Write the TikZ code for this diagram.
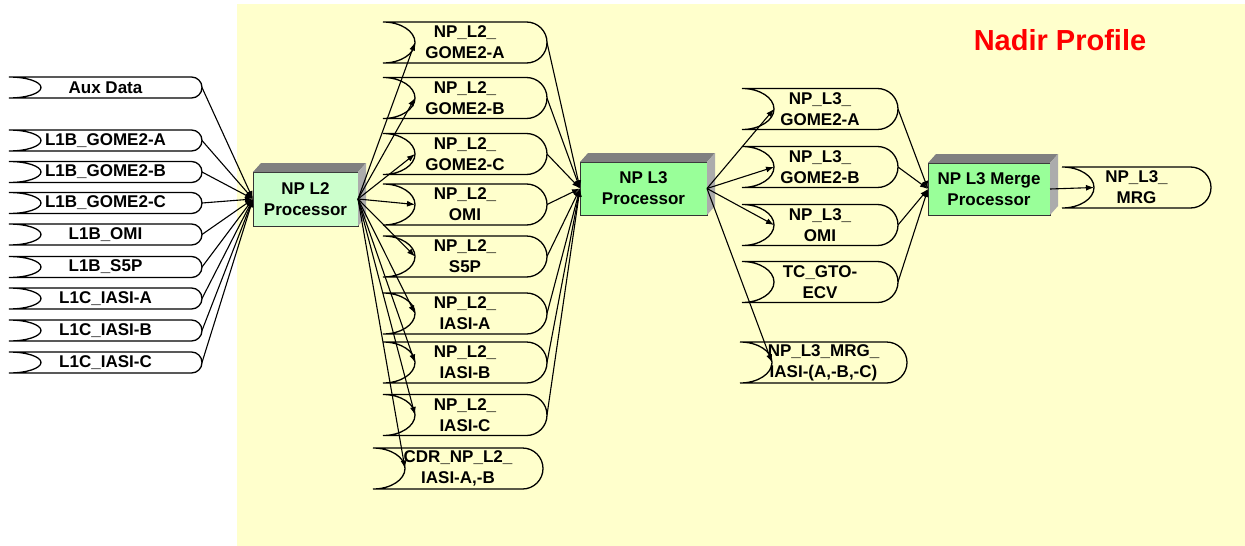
\documentclass[tikz,border=0pt]{standalone}
\usepackage{fontspec}
\setmainfont{Liberation Sans}
\usetikzlibrary{arrows.meta}
\definecolor{bgyellow}{HTML}{FFFFCC}
\definecolor{lightgreen}{HTML}{CCFFCC}
\definecolor{procgreen}{HTML}{99FF99}
\tikzset{
  dtext/.style={font=\bfseries\fontsize{17}{21}\selectfont, align=center,
    inner sep=0pt, outer sep=0pt},
  dline/.style={line width=1.3pt},
  proc/.style={draw=black!80, line width=0.8pt, font=\bfseries\fontsize{17}{21}\selectfont,
    align=center, inner sep=0pt, outer sep=0pt},
  arr/.style={-{Latex[length=8pt,width=6pt]}, line width=1.1pt},
  title/.style={text=red, font=\bfseries\fontsize{29}{32}\selectfont}
}
% data store: name, left x, centre y, right x, height, text
\newcommand{\dstore}[6]{%
  \node[dtext, minimum width=#4pt-#2pt, minimum height=#5pt] (#1) at ({(#2+#4)/2},-#3) {#6};
  \draw[dline] (#1.south west) arc[start angle=-90, end angle=90, x radius=32pt, y radius=#5*0.5pt]
    -- ([xshift=-#5*0.5pt]#1.north east) arc[start angle=90, end angle=-90, radius=#5*0.5pt] -- cycle;
  \coordinate (#1-in) at ([xshift=32pt]#1.west);
}
\begin{document}
\begin{tikzpicture}[x=1pt,y=1pt]
  \useasboundingbox (0,0) rectangle (1245,-546);
  \fill[bgyellow] (237,-4) rectangle (1245,-546);
  \node[title] (title) at (1060,-40) {Nadir Profile};
  % level 1 inputs
  \foreach \n/\y/\t in {aux/87.5/Aux Data, l1bga/140.5/L1B\_GOME2-A, l1bgb/172/L1B\_GOME2-B,
      l1bgc/203/L1B\_GOME2-C, l1bomi/234.5/L1B\_OMI, l1bs5p/267/L1B\_S5P,
      l1cia/298.5/L1C\_IASI-A, l1cib/330.5/L1C\_IASI-B, l1cic/362.5/L1C\_IASI-C}
    \dstore{\n}{9}{\y}{202}{21}{\t};
  % level 2 products
  \foreach \n/\y/\t in {l2ga/42.5/NP\_L2\_\\GOME2-A, l2gb/98/NP\_L2\_\\GOME2-B,
      l2gc/154/NP\_L2\_\\GOME2-C, l2omi/204.5/NP\_L2\_\\OMI, l2s5p/256.5/NP\_L2\_\\S5P,
      l2ia/313.5/NP\_L2\_\\IASI-A, l2ib/362.5/NP\_L2\_\\IASI-B, l2ic/415/NP\_L2\_\\IASI-C}
    \dstore{\n}{383}{\y}{547}{41}{\t};
  \dstore{cdr}{373}{468.5}{543}{41}{CDR\_NP\_L2\_\\IASI-A,-B}
  % level 3 products
  \foreach \n/\y/\t in {l3ga/109/NP\_L3\_\\GOME2-A, l3gb/167/NP\_L3\_\\GOME2-B,
      l3omi/225/NP\_L3\_\\OMI, tcgto/282/TC\_GTO-\\ECV}
    \dstore{\n}{742}{\y}{898}{41}{\t};
  \dstore{l3iasi}{740}{362.5}{907}{41}{NP\_L3\_MRG\_\\IASI-(A,-B,-C)}
  \dstore{l3mrg}{1062}{187.5}{1211}{41}{NP\_L3\_\\MRG}
  % processors
  \node[proc, fill=lightgreen, minimum width=105pt, minimum height=54pt] (pl2) at (305.5,-199) {NP L2\\Processor};
  \node[proc, fill=procgreen, minimum width=127pt, minimum height=53pt] (pl3) at (643.5,-188.5) {NP L3\\Processor};
  \node[proc, fill=procgreen, minimum width=122pt, minimum height=52pt] (pmrg) at (989,-189) {NP L3 Merge\\Processor};
  \foreach \p in {pl2,pl3,pmrg} {
    \fill[gray] (\p.north west) -- ++(8,9) -- ([shift={(8,9)}]\p.north east) -- (\p.north east) -- cycle;
    \fill[gray!65] (\p.north east) -- ++(8,9) -- ([shift={(8,9)}]\p.south east) -- (\p.south east) -- cycle;
  }
  % connectors
  \foreach \n in {aux,l1bga,l1bgb,l1bgc,l1bomi,l1bs5p,l1cia,l1cib,l1cic}
    \draw[arr] (\n.east) -- (pl2.west);
  \foreach \n in {l2ga,l2gb,l2gc,l2omi,l2s5p,l2ia,l2ib,l2ic,cdr}
    \draw[arr] (pl2.east) -- (\n-in);
  \foreach \n in {l2ga,l2gb,l2gc,l2omi,l2s5p,l2ia,l2ib,l2ic}
    \draw[arr] (\n.east) -- (pl3.west);
  \foreach \n in {l3ga,l3gb,l3omi,l3iasi}
    \draw[arr] (pl3.east) -- (\n-in);
  \foreach \n in {l3ga,l3gb,l3omi,tcgto}
    \draw[arr] (\n.east) -- (pmrg.west);
  \draw[arr] (pmrg.east) -- (l3mrg-in);
\end{tikzpicture}
\end{document}
